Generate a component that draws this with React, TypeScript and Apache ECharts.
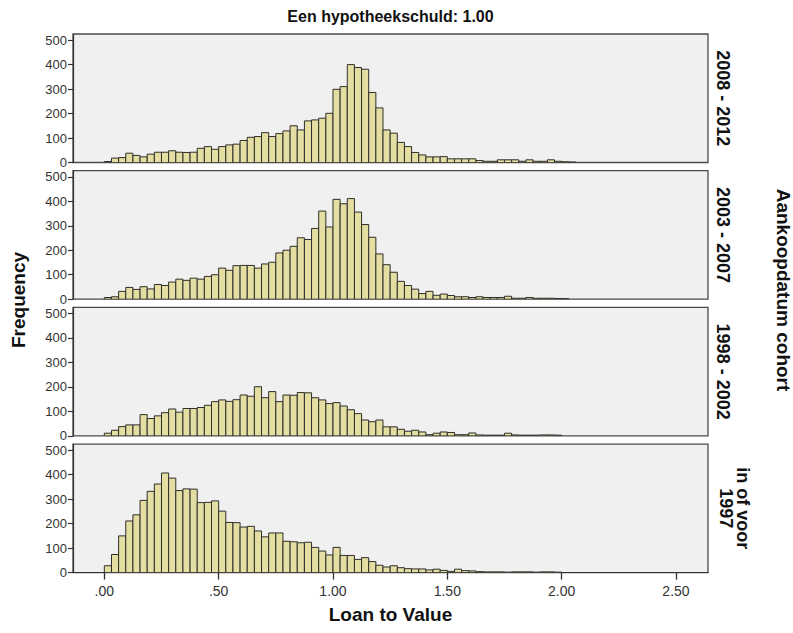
import React, { useEffect, useRef } from "react";
import * as echarts from "echarts";

// Histogram bin width (Loan to Value)
const BIN_WIDTH = 1 / 32;

const TITLE = "Een hypotheekschuld: 1.00";
const X_TITLE = "Loan to Value";
const Y_TITLE = "Frequency";
const RIGHT_TITLE = "Aankoopdatum cohort";

const cohorts = ["2008 - 2012", "2003 - 2007", "1998 - 2002", "in of voor\n1997"];

const xTicks = [0, 0.5, 1, 1.5, 2, 2.5];
const xTickLabels = [".00", ".50", "1.00", "1.50", "2.00", "2.50"];
const yTicks = [0, 100, 200, 300, 400, 500];

const counts2008 = [
  4, 18, 20, 38, 29, 23, 34, 42, 42, 48, 42, 41, 42, 58, 65, 54, 65, 72, 75, 90,
  103, 106, 122, 106, 118, 129, 150, 133, 170, 174, 181, 201, 299, 310, 400, 388, 381, 286, 223, 133,
  120, 82, 65, 41, 31, 23, 23, 24, 15, 15, 15, 15, 8, 5, 5, 11, 11, 11, 5, 11,
  5, 5, 11, 5, 3, 2,
];
const counts2003 = [
  7, 10, 32, 48, 40, 51, 42, 60, 56, 70, 82, 77, 86, 82, 93, 100, 127, 118, 137, 138,
  138, 127, 144, 151, 189, 200, 216, 251, 244, 289, 360, 295, 408, 390, 411, 356, 305, 253, 185, 141,
  110, 73, 56, 41, 23, 32, 16, 21, 15, 10, 10, 7, 10, 7, 7, 7, 12, 4, 4, 7,
  4, 4, 4, 3, 2,
];
const counts1998 = [
  11, 23, 38, 45, 45, 87, 71, 82, 95, 110, 97, 112, 112, 116, 125, 140, 147, 141, 148, 167,
  162, 201, 156, 181, 140, 167, 166, 177, 176, 156, 147, 132, 136, 122, 107, 91, 65, 58, 65, 37,
  37, 27, 19, 23, 16, 5, 11, 16, 14, 5, 5, 12, 4, 3, 3, 3, 11, 4, 3, 3,
  3, 4, 4, 3,
];
const counts1997 = [
  28, 74, 150, 211, 236, 295, 332, 362, 407, 386, 335, 342, 341, 286, 287, 293, 251, 205, 204, 186,
  189, 170, 146, 162, 162, 128, 126, 122, 124, 103, 88, 72, 103, 70, 70, 54, 61, 45, 30, 23,
  28, 20, 16, 15, 15, 11, 14, 9, 5, 14, 8, 7, 4, 3, 3, 3, 2, 3, 3, 3,
  2, 3, 3, 2,
];

const panelCounts = [counts2008, counts2003, counts1998, counts1997];

const FONT = "'Liberation Sans', Arial, sans-serif";
const X_MIN = -0.137;
const X_MAX = 2.64;
const Y_MAX = 525;

const PLOT_LEFT = 73;
const PLOT_WIDTH = 635;
const PANEL_TOP0 = 34;
const PANEL_STEP = 136.7;
const PANEL_HEIGHT = 128.5;

function fmtX(v: number): string {
  const idx = xTicks.findIndex((t) => Math.abs(t - v) < 1e-6);
  return idx >= 0 ? xTickLabels[idx] : "";
}

export default function App() {
  const ref = useRef<HTMLDivElement>(null);

  useEffect(() => {
    document.body.style.margin = "0";
    if (!ref.current) return;
    const chart = echarts.init(ref.current, undefined, { renderer: "svg" });

    const grids: any[] = [];
    const xAxes: any[] = [];
    const yAxes: any[] = [];
    const series: any[] = [];
    const graphics: any[] = [];

    panelCounts.forEach((counts, i) => {
      const top = PANEL_TOP0 + i * PANEL_STEP;
      const isBottom = i === panelCounts.length - 1;
      grids.push({
        left: PLOT_LEFT,
        width: PLOT_WIDTH,
        top,
        height: PANEL_HEIGHT,
        show: true,
        backgroundColor: "#f0f0f0",
        borderColor: "#4a4a4a",
        borderWidth: 1.3,
      });
      xAxes.push({
        type: "value",
        gridIndex: i,
        min: X_MIN,
        max: X_MAX,
        show: isBottom,
        splitLine: { show: false },
        axisLine: { show: isBottom, onZero: false, lineStyle: { color: "#333", width: 1.2 } },
        axisTick: {
          show: isBottom,
          length: 7,
          customValues: xTicks,
          lineStyle: { color: "#333", width: 1.3 },
        },
        axisLabel: {
          show: isBottom,
          customValues: xTicks,
          formatter: (v: number) => fmtX(v),
          fontFamily: FONT,
          fontSize: 14,
          color: "#333",
          margin: 11,
        },
      });
      yAxes.push({
        type: "value",
        gridIndex: i,
        min: 0,
        max: Y_MAX,
        splitLine: { show: false },
        axisLine: { show: true, onZero: false, lineStyle: { color: "#333", width: 1.2 } },
        axisTick: {
          show: true,
          length: 5,
          customValues: yTicks,
          lineStyle: { color: "#333", width: 1.2 },
        },
        axisLabel: {
          customValues: yTicks,
          fontFamily: FONT,
          fontSize: 13,
          color: "#333",
          margin: 6,
        },
      });
      series.push({
        type: "custom",
        xAxisIndex: i,
        yAxisIndex: i,
        clip: true,
        data: counts.map((c, k) => [k * BIN_WIDTH, c]),
        encode: { x: 0, y: 1 },
        renderItem: (params: any, api: any) => {
          const x0 = api.value(0);
          const y = api.value(1);
          const p0 = api.coord([x0, y]);
          const p1 = api.coord([x0 + BIN_WIDTH, 0]);
          return {
            type: "rect",
            shape: { x: p0[0], y: p0[1], width: p1[0] - p0[0], height: p1[1] - p0[1] },
            style: { fill: "#e4dea2", stroke: "#2e2e2a", lineWidth: 1 },
          };
        },
      });
      graphics.push({
        type: "text",
        x: i === 3 ? 734 : 723,
        y: top + PANEL_HEIGHT / 2,
        rotation: -Math.PI / 2,
        style: {
          text: cohorts[i],
          fontFamily: FONT,
          fontSize: 18,
          fontWeight: "bold",
          fill: "#111",
          align: "center",
          verticalAlign: "middle",
          lineHeight: 17,
        },
      });
    });

    graphics.push(
      {
        type: "text",
        x: PLOT_LEFT + PLOT_WIDTH / 2,
        y: 16,
        style: {
          text: TITLE,
          fontFamily: FONT,
          fontSize: 16,
          fontWeight: "bold",
          fill: "#111",
          align: "center",
          verticalAlign: "middle",
        },
      },
      {
        type: "text",
        x: PLOT_LEFT + PLOT_WIDTH / 2,
        y: 614,
        style: {
          text: X_TITLE,
          fontFamily: FONT,
          fontSize: 19,
          fontWeight: "bold",
          fill: "#111",
          align: "center",
          verticalAlign: "middle",
        },
      },
      {
        type: "text",
        x: 18,
        y: 300,
        rotation: Math.PI / 2,
        style: {
          text: Y_TITLE,
          fontFamily: FONT,
          fontSize: 19,
          fontWeight: "bold",
          fill: "#111",
          align: "center",
          verticalAlign: "middle",
        },
      },
      {
        type: "text",
        x: 783,
        y: 290,
        rotation: -Math.PI / 2,
        style: {
          text: RIGHT_TITLE,
          fontFamily: FONT,
          fontSize: 19,
          fontWeight: "bold",
          fill: "#111",
          align: "center",
          verticalAlign: "middle",
        },
      }
    );

    chart.setOption({
      animation: false,
      backgroundColor: "#ffffff",
      grid: grids,
      xAxis: xAxes,
      yAxis: yAxes,
      series,
      graphic: graphics,
    });

    return () => {
      chart.dispose();
    };
  }, []);

  return <div ref={ref} style={{ width: 793, height: 633 }} />;
}
